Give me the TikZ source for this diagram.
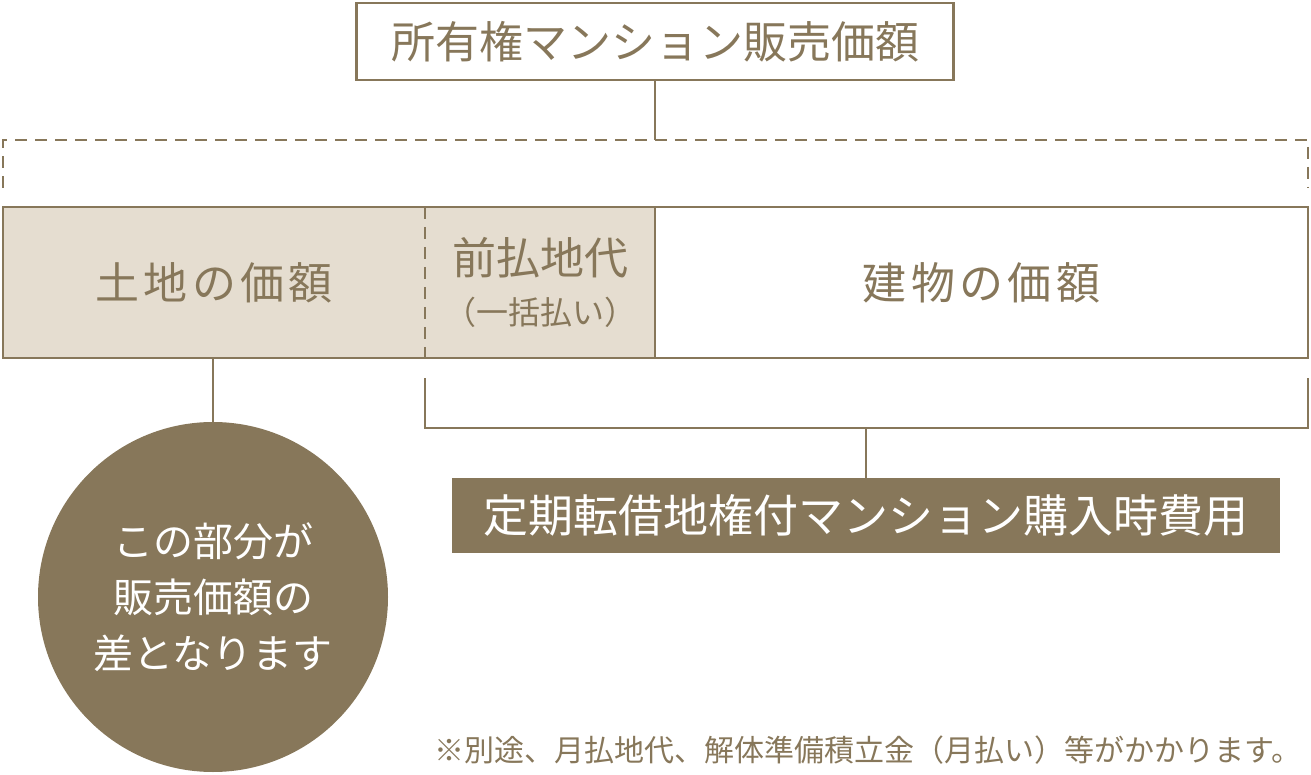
\documentclass[tikz,border=0pt]{standalone}
\usepackage{fontspec}
\newfontfamily\jp{Noto Sans CJK JP}
\newfontfamily\jpw[LetterSpace=10]{Noto Sans CJK JP}
\definecolor{br}{HTML}{87775A}
\definecolor{bg}{HTML}{E5DDD0}
\begin{document}
\begin{tikzpicture}[x=1pt,y=-1pt,
  ln/.style={draw=br,line width=2.5pt},
  dl/.style={ln,dash pattern=on 12pt off 8pt},
  txt/.style={text=br,font=\jpw\fontsize{44}{48}\selectfont}]
\useasboundingbox (0,0) rectangle (1311,775);
\node[ln,minimum width=597pt,minimum height=77pt,text=br,font=\jp\fontsize{44}{48}\selectfont] (top) at (655,41.5) {所有権マンション販売価額};
\coordinate (tb) at (655,140);
\draw[ln] (top.south) -- (tb);
\draw[dl] (3,188) -- (3,140) -- (1308,140) -- (1308,188);
\node[fill=bg,minimum width=422pt,minimum height=151pt,inner sep=0] (land) at (214,282.5) {};
\node[fill=bg,minimum width=230pt,minimum height=151pt,inner sep=0] (pre) at (540,282.5) {};
\node[minimum width=653pt,minimum height=151pt,inner sep=0] (bld) at (981.5,282.5) {};
\draw[ln] (3,207) rectangle (1308,358);
\draw[ln] (655,207) -- (655,358);
\draw[dl] (425,207) -- (425,358);
\node[txt] at (land) {土地の価額};
\node[txt,align=center,font=\jp\fontsize{44}{50}\selectfont] at (pre) {前払地代\\{\fontsize{32}{34}\selectfont（一括払い）}};
\node[txt] at (bld) {建物の価額};
\node[circle,fill=br,minimum size=350pt,inner sep=0] (circ) at (213,597) {};
\node[text=white,align=center,font=\jp\fontsize{40}{56}\selectfont] at (circ) {この部分が\\販売価額の\\差となります};
\draw[ln] (213,358) -- (circ.north);
\draw[ln] (425,378) -- (425,428) -- (1308,428) -- (1308,378);
\node[fill=br,minimum width=828pt,minimum height=75pt,text=white,font=\jp\fontsize{45}{48}\selectfont] (fix) at (866,515.5) {定期転借地権付マンション購入時費用};
\draw[ln] (866,428) -- (fix.north);
\node[text=br,anchor=east,inner sep=0,font=\jp\fontsize{30}{32}\selectfont] (note) at (1302,750) {※別途、月払地代、解体準備積立金（月払い）等がかかります。};
\end{tikzpicture}
\end{document}
